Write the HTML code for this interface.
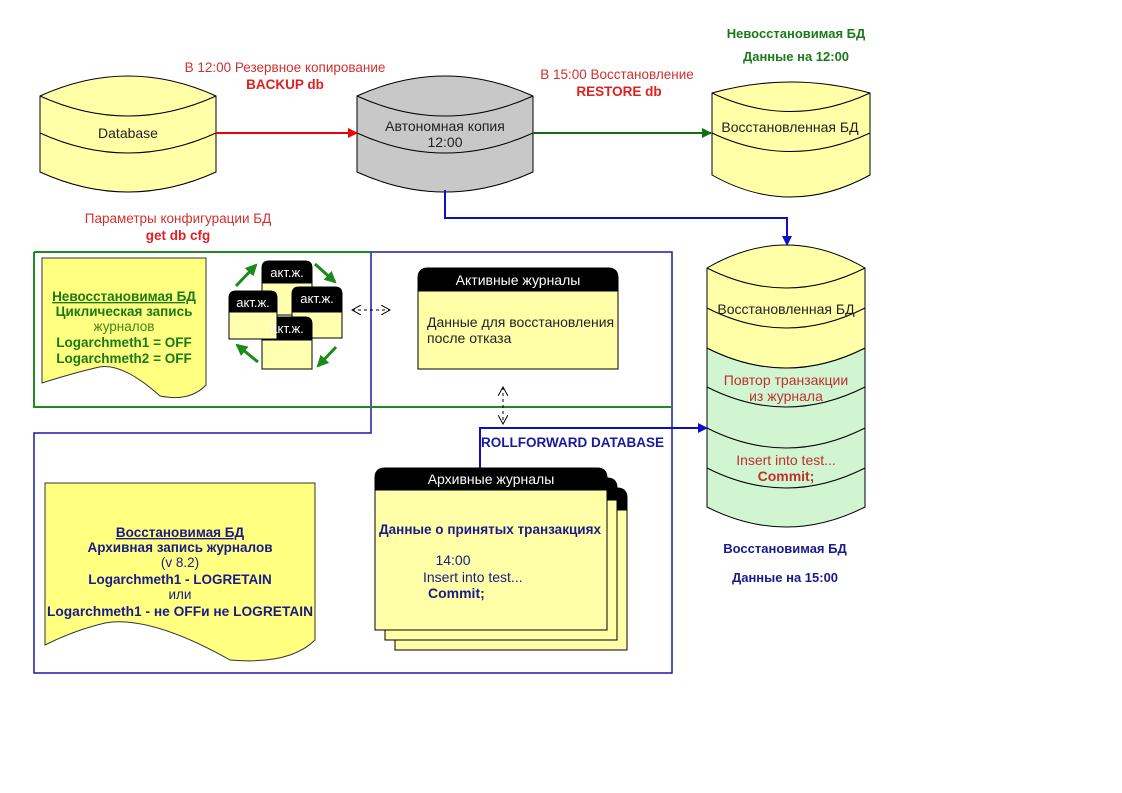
<!DOCTYPE html>
<html><head><meta charset="utf-8"><style>
html,body{margin:0;padding:0;background:#fff;}
svg{display:block;}
text{font-family:"Liberation Sans","DejaVu Sans",sans-serif;}
</style></head><body>
<svg width="1122" height="793" viewBox="0 0 1122 793" xmlns="http://www.w3.org/2000/svg">
<defs>
<marker id="ar" markerWidth="10" markerHeight="10" refX="9" refY="5" orient="auto" markerUnits="userSpaceOnUse"><path d="M0,0 L10,5 L0,10 z" fill="#e00"/></marker>
<marker id="ag" markerWidth="10" markerHeight="10" refX="9" refY="5" orient="auto" markerUnits="userSpaceOnUse"><path d="M0,0 L10,5 L0,10 z" fill="#107010"/></marker>
<marker id="ab" markerWidth="10" markerHeight="10" refX="9" refY="5" orient="auto" markerUnits="userSpaceOnUse"><path d="M0,0 L10,5 L0,10 z" fill="#1010c0"/></marker>
<marker id="agg" markerWidth="12" markerHeight="12" refX="10" refY="6" orient="auto" markerUnits="userSpaceOnUse"><path d="M0,0 L12,6 L0,12 z" fill="#1a8a1a"/></marker>
<marker id="ad" markerWidth="10" markerHeight="10" refX="9" refY="5" orient="auto-start-reverse" markerUnits="userSpaceOnUse"><path d="M0,0 L9,5 L0,10" fill="none" stroke="#000"/></marker>
</defs>

<path d="M371,252 H672 V673 H34 V433 H371 Z" fill="none" stroke="#1a1aa8" stroke-width="1.5"/>
<path d="M34,252 H371 M34,252 V407 H672" fill="none" stroke="#208a20" stroke-width="2"/>

<g stroke="#000" stroke-width="1">
<path d="M40,96 Q128,56 216,96 V172 Q128,212 40,172 Z" fill="#ffffa8"/>
<path d="M40,96 Q128,136 216,96 M40,133 Q128,173 216,133" fill="none"/>
<path d="M357,96 Q445,56 533,96 V172 Q445,212 357,172 Z" fill="#c8c8c8"/>
<path d="M357,96 Q445,136 533,96 M357,133 Q445,173 533,133" fill="none"/>
<path d="M712,93 Q790,71 870,93 V175 Q790,219 712,175 Z" fill="#ffffa8"/>
<path d="M712,93 Q790,130 870,93 M712,133 Q790,170 870,133" fill="none"/>
<path d="M707,348 Q786,388 865,348 V507 Q786,547 707,507 Z" fill="#d0f5d0"/>
<path d="M707,268 Q786,222 865,268 V348 Q786,388 707,348 Z" fill="#ffffa8"/>
<path d="M707,268 Q786,308 865,268 M707,308 Q786,348 865,308 M707,387 Q786,427 865,387 M707,428 Q786,468 865,428 M707,468 Q786,508 865,468" fill="none"/>
</g>
<text x="128" y="138" font-size="14" text-anchor="middle" fill="#222">Database</text>
<text x="445" y="131" font-size="14" text-anchor="middle" fill="#222">Автономная копия</text>
<text x="445" y="147" font-size="14" text-anchor="middle" fill="#222">12:00</text>
<text x="790" y="132" font-size="14" text-anchor="middle" fill="#222">Восстановленная БД</text>
<text x="786" y="314" font-size="14" text-anchor="middle" fill="#222">Восстановленная БД</text>
<text x="786" y="385" font-size="14" text-anchor="middle" fill="#c03030">Повтор транзакции</text>
<text x="786" y="401" font-size="14" text-anchor="middle" fill="#c03030">из журнала</text>
<text x="786" y="465" font-size="14" text-anchor="middle" fill="#c03030">Insert into test...</text>
<text x="786" y="481" font-size="14" text-anchor="middle" fill="#c03030" font-weight="bold">Commit;</text>

<line x1="216" y1="133" x2="357" y2="133" stroke="#e00" stroke-width="2" marker-end="url(#ar)"/>
<line x1="533" y1="133" x2="711" y2="133" stroke="#107010" stroke-width="2" marker-end="url(#ag)"/>
<path d="M445,190 V218 H787 V245" fill="none" stroke="#1010c0" stroke-width="2" marker-end="url(#ab)"/>
<path d="M480,468 V428 H707" fill="none" stroke="#1010c0" stroke-width="2" marker-end="url(#ab)"/>

<text x="285" y="72" font-size="13.5" text-anchor="middle" fill="#d03030">В 12:00 Резервное копирование</text>
<text x="285" y="89" font-size="13.5" text-anchor="middle" fill="#e02020" font-weight="bold">BACKUP db</text>
<text x="617" y="79" font-size="13.5" text-anchor="middle" fill="#d03030">В 15:00 Восстановление</text>
<text x="619" y="96" font-size="13.5" text-anchor="middle" fill="#e02020" font-weight="bold">RESTORE db</text>
<text x="178" y="223" font-size="13.5" text-anchor="middle" fill="#d03030">Параметры конфигурации БД</text>
<text x="178" y="240" font-size="13.5" text-anchor="middle" fill="#e02020" font-weight="bold">get db cfg</text>
<text x="796" y="38" font-size="13" text-anchor="middle" fill="#1a7a1a" font-weight="bold">Невосстановимая БД</text>
<text x="796" y="61" font-size="13" text-anchor="middle" fill="#1a7a1a" font-weight="bold">Данные на 12:00</text>
<text x="785" y="553" font-size="13" text-anchor="middle" fill="#1a1a8a" font-weight="bold">Восстановимая БД</text>
<text x="785" y="582" font-size="13" text-anchor="middle" fill="#1a1a8a" font-weight="bold">Данные на 15:00</text>
<text x="481" y="447" font-size="13.5" fill="#1a1aa0" font-weight="bold">ROLLFORWARD DATABASE</text>

<path d="M42,258 H206 V385 Q190,402 160,396 Q120,360 95,368 Q70,374 42,383 Z" fill="#ffff80" stroke="#333" stroke-width="1"/>
<text x="124" y="301" font-size="13.5" text-anchor="middle" fill="#1a7a1a" font-weight="bold" text-decoration="underline">Невосстановимая БД</text>
<text x="124" y="316" font-size="13.5" text-anchor="middle" fill="#1a7a1a" font-weight="bold">Циклическая запись</text>
<text x="124" y="331" font-size="13.5" text-anchor="middle" fill="#3a8a1a">журналов</text>
<text x="124" y="347" font-size="13.5" text-anchor="middle" fill="#1a7a1a" font-weight="bold">Logarchmeth1 = OFF</text>
<text x="124" y="363" font-size="13.5" text-anchor="middle" fill="#1a7a1a" font-weight="bold">Logarchmeth2 = OFF</text>

<path d="M45,483 H315 V640 Q290,665 230,660 Q150,615 105,623 Q75,630 45,645 Z" fill="#ffff80" stroke="#333" stroke-width="1"/>
<text x="180" y="537" font-size="13.5" text-anchor="middle" fill="#1a1a8a" font-weight="bold" text-decoration="underline">Восстановимая БД</text>
<text x="180" y="552" font-size="13.5" text-anchor="middle" fill="#1a1a8a" font-weight="bold">Архивная запись журналов</text>
<text x="180" y="567" font-size="13.5" text-anchor="middle" fill="#1a1a8a">(v 8.2)</text>
<text x="180" y="584" font-size="13.5" text-anchor="middle" fill="#1a1a8a" font-weight="bold">Logarchmeth1 - LOGRETAIN</text>
<text x="180" y="599" font-size="13.5" text-anchor="middle" fill="#1a1a8a">или</text>
<text x="180" y="616" font-size="13.5" text-anchor="middle" fill="#1a1a8a" font-weight="bold" textLength="266" lengthAdjust="spacingAndGlyphs">Logarchmeth1 - не OFFи не LOGRETAIN</text>

<g stroke="#000" stroke-width="1">
<path d="M262,283 V268 Q262,261 269,261 H305 Q312,261 312,268 V283 Z" fill="#000"/><rect x="262" y="283" width="50" height="32" fill="#ffffb0"/>
<path d="M292,312 V294 Q292,287 299,287 H335 Q342,287 342,294 V312 Z" fill="#000"/><rect x="292" y="312" width="50" height="26" fill="#ffffb0"/>
<path d="M262,340 V324 Q262,317 269,317 H305 Q312,317 312,324 V340 Z" fill="#000"/><rect x="262" y="340" width="50" height="29" fill="#ffffb0"/>
<path d="M229,312 V298 Q229,291 236,291 H270 Q277,291 277,298 V312 Z" fill="#000"/><rect x="229" y="312" width="48" height="27" fill="#ffffb0"/>
</g>
<text x="287" y="277" font-size="13" text-anchor="middle" fill="#fff">акт.ж.</text>
<text x="317" y="303" font-size="13" text-anchor="middle" fill="#fff">акт.ж.</text>
<text x="287" y="333" font-size="13" text-anchor="middle" fill="#fff">акт.ж.</text>
<text x="253" y="307" font-size="13" text-anchor="middle" fill="#fff">акт.ж.</text>
<g stroke="#1a8a1a" stroke-width="3">
<line x1="236" y1="286" x2="256" y2="265" marker-end="url(#agg)"/>
<line x1="315" y1="264" x2="335" y2="282" marker-end="url(#agg)"/>
<line x1="336" y1="347" x2="318" y2="366" marker-end="url(#agg)"/>
<line x1="258" y1="362" x2="237" y2="345" marker-end="url(#agg)"/>
</g>
<line x1="352" y1="310" x2="390" y2="310" stroke="#000" stroke-dasharray="3,3" marker-start="url(#ad)" marker-end="url(#ad)"/>
<line x1="503" y1="387" x2="503" y2="424" stroke="#000" stroke-dasharray="3,3" marker-start="url(#ad)" marker-end="url(#ad)"/>

<path d="M418,291 V278 Q418,268 428,268 H608 Q618,268 618,278 V291 Z" fill="#000" stroke="#000"/>
<rect x="418" y="291" width="200" height="78" fill="#ffffa8" stroke="#000"/>
<text x="518" y="285" font-size="14" text-anchor="middle" fill="#fff">Активные журналы</text>
<text x="427" y="327" font-size="14" fill="#222">Данные для восстановления</text>
<text x="427" y="343" font-size="14" fill="#222">после отказа</text>

<g stroke="#000">
<path d="M395,510 V498 Q395,488 405,488 H617 Q627,488 627,498 V510 Z" fill="#000"/><rect x="395" y="510" width="232" height="140" fill="#ffffa8"/>
<path d="M385,500 V488 Q385,478 395,478 H607 Q617,478 617,488 V500 Z" fill="#000"/><rect x="385" y="500" width="232" height="140" fill="#ffffa8"/>
<path d="M375,490 V478 Q375,468 385,468 H597 Q607,468 607,478 V490 Z" fill="#000"/><rect x="375" y="490" width="232" height="140" fill="#ffffa8"/>
</g>
<text x="491" y="484" font-size="14" text-anchor="middle" fill="#fff">Архивные журналы</text>
<text x="379" y="534" font-size="13.5" fill="#1a1a8a" font-weight="bold" textLength="222" lengthAdjust="spacingAndGlyphs">Данные о принятых транзакциях</text>
<text x="453" y="565" font-size="14" text-anchor="middle" fill="#1a1a8a">14:00</text>
<text x="423" y="582" font-size="14" fill="#1a1a8a">Insert into test...</text>
<text x="428" y="598" font-size="14" fill="#1a1a8a" font-weight="bold">Commit;</text>
</svg>
</body></html>
